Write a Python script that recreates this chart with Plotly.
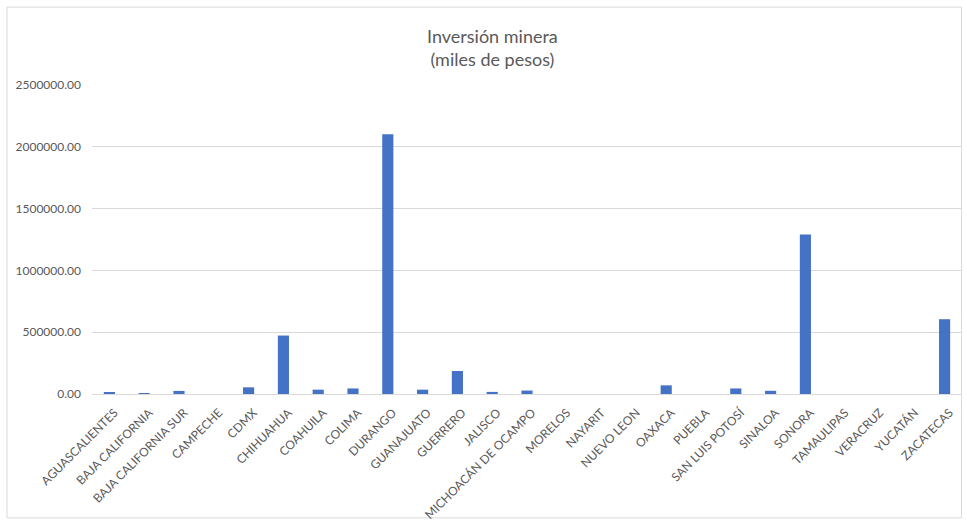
import plotly.graph_objects as go

estados = [
    "AGUASCALIENTES", "BAJA CALIFORNIA", "BAJA CALIFORNIA SUR", "CAMPECHE", "CDMX",
    "CHIHUAHUA", "COAHUILA", "COLIMA", "DURANGO", "GUANAJUATO", "GUERRERO",
    "JALISCO", "MICHOACÁN DE OCAMPO", "MORELOS", "NAYARIT", "NUEVO LEON",
    "OAXACA", "PUEBLA", "SAN LUIS POTOSÍ", "SINALOA", "SONORA", "TAMAULIPAS",
    "VERACRUZ", "YUCATÁN", "ZACATECAS",
]
inversion = [
    16000, 8000, 25000, 0, 54000,
    473000, 35000, 45000, 2101000, 35000, 186000,
    17000, 28000, 0, 0, 0,
    70000, 0, 45000, 26000, 1290000, 0,
    0, 0, 605000,
]
y_ticks = [0, 500000, 1000000, 1500000, 2000000, 2500000]

titulo = "Inversión minera<br>(miles de pesos)"

gris = "#595959"
fuente = "Lato"

fig = go.Figure(
    go.Bar(x=estados, y=inversion, marker=dict(color="#4472C4", line=dict(width=0)))
)

fig.update_layout(
    width=967,
    height=521,
    margin=dict(l=92, r=5, t=85, b=127),
    paper_bgcolor="white",
    plot_bgcolor="white",
    bargap=0.68,
    showlegend=False,
    font=dict(family=fuente, color=gris, size=12),
    annotations=[
        dict(
            text=titulo,
            xref="paper", yref="paper",
            x=0.4598, y=1.20,
            xanchor="center", yanchor="top",
            showarrow=False,
            align="center",
            font=dict(family=fuente, size=18, color=gris),
        )
    ],
    shapes=[
        dict(
            type="rect", xref="paper", yref="paper",
            x0=-0.0977, x1=0.9995, y0=-0.401, y1=1.252,
            line=dict(color="#D9D9D9", width=1), fillcolor="rgba(0,0,0,0)",
            layer="below",
        )
    ],
)

fig.update_xaxes(
    type="category",
    automargin=False,
    tickangle=-45,
    tickfont=dict(family=fuente, size=12, color=gris),
    showgrid=False,
    showline=True,
    linecolor="#D9D9D9",
    linewidth=1,
    ticks="",
    ticklabelstandoff=6,
    ticklabelshift=5,
    range=[-0.5, len(estados) - 0.5],
)

fig.update_yaxes(
    automargin=False,
    range=[0, 2500000],
    tickvals=y_ticks,
    tickformat=".2f",
    tickfont=dict(family=fuente, size=12, color=gris),
    showgrid=True,
    gridcolor="#D9D9D9",
    gridwidth=1,
    zeroline=False,
    showline=False,
    ticks="",
    ticklabelstandoff=10,
)

fig.write_html(
    "out.html",
    config={"displayModeBar": False},
    post_script="document.body.style.margin='0';document.body.style.overflow='hidden';",
)
